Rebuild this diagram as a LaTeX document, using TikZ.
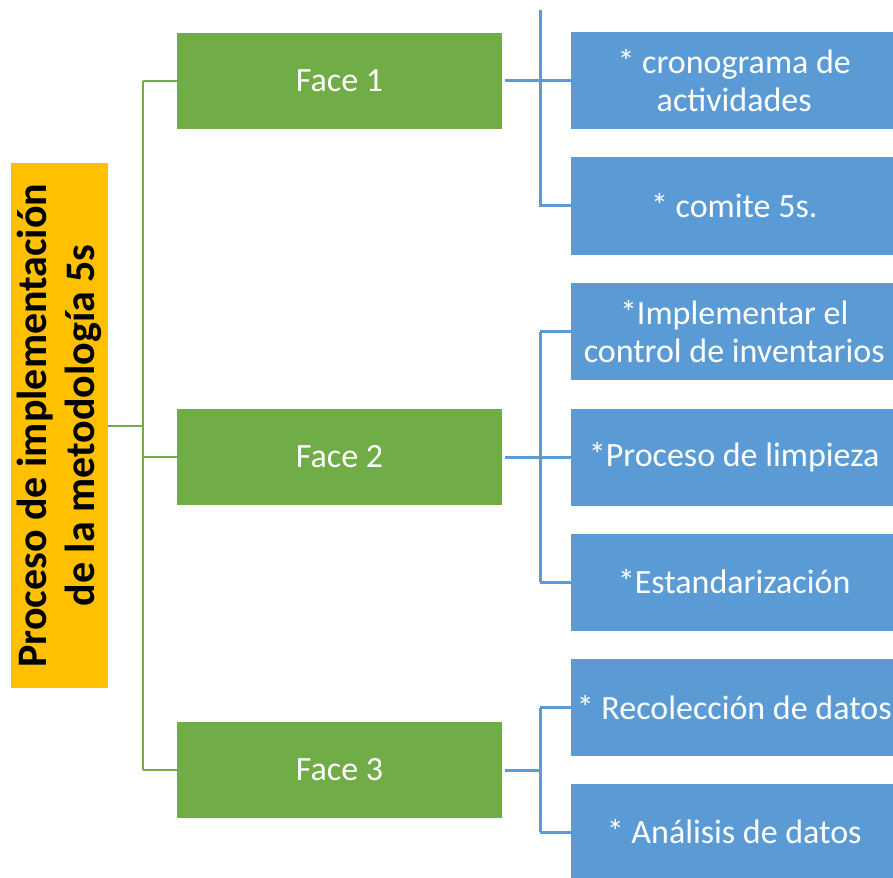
\documentclass[tikz,border=0pt]{standalone}
\usepackage{fontspec}
\setmainfont{Carlito}
\usetikzlibrary{calc}
\definecolor{fgreen}{HTML}{70AD47}
\definecolor{lblue}{HTML}{5B9BD5}
\definecolor{rorange}{HTML}{FFC000}
\begin{document}
\begin{tikzpicture}[x=1pt,y=-1pt,
  rootbox/.style={fill=rorange, minimum width=525pt, minimum height=97pt, inner sep=0pt,
    rotate=90, align=center, text=black, font=\fontsize{42}{48}\selectfont\bfseries},
  facebox/.style={fill=fgreen, minimum width=325pt, minimum height=96pt, inner sep=0pt,
    text=white, font=\fontsize{34}{38}\selectfont},
  leafbox/.style={fill=lblue, minimum width=326pt, minimum height=97pt, inner sep=0pt,
    anchor=west, align=center, text=white, font=\fontsize{34}{38}\selectfont},
  gline/.style={draw=fgreen, line width=2pt},
  bline/.style={draw=lblue, line width=3pt}]
\useasboundingbox (0,0) rectangle (893,877);
\clip (0,0) rectangle (893,877);
% root
\node[rootbox] (root) at (59.5,425.5) {Proceso de implementación\\de la metodología 5s};
% phases
\node[facebox] (f1) at (339.5,81) {Face 1};
\node[facebox] (f2) at (339.5,457) {Face 2};
\node[facebox] (f3) at (339.5,770) {Face 3};
% leaves
\node[leafbox] (c1) at (571,81) {* cronograma de\\actividades};
\node[leafbox] (c2) at (571,206) {* comite 5s.};
\node[leafbox] (c3) at (571,331.5) {*Implementar el\\control de inventarios};
\node[leafbox] (c4) at (571,457.5) {*Proceso de limpieza};
\node[leafbox] (c5) at (571,582) {*Estandarización};
\node[leafbox] (c6) at (571,707.5) {* Recolección de datos};
\node[leafbox] (c7) at (571,832) {* Análisis de datos};
% green connectors
\draw[gline] (root.south) -- ++(35,0) coordinate (rj);
\draw[gline] (rj |- f1.west) -- (rj |- f3.west);
\draw[gline] (rj |- f1.west) -- (f1.west);
\draw[gline] (rj |- f2.west) -- (f2.west);
\draw[gline] (rj |- f3.west) -- (f3.west);
% blue connectors, face 1
\coordinate (top1) at (540,10);
\draw[bline] ($(f1.east)+(3,0)$) -- (c1.west);
\draw[bline] (top1) |- (c2.west);
% face 2
\draw[bline] ($(f2.east)+(3,0)$) -- (top1 |- f2.east);
\draw[bline] (top1 |- c3.west) -- (top1 |- c5.west);
\draw[bline] (top1 |- c3.west) -- (c3.west);
\draw[bline] (top1 |- c4.west) -- (c4.west);
\draw[bline] (top1 |- c5.west) -- (c5.west);
% face 3
\draw[bline] ($(f3.east)+(3,0)$) -- (top1 |- f3.east);
\draw[bline] (top1 |- c6.west) -- (top1 |- c7.west);
\draw[bline] (top1 |- c6.west) -- (c6.west);
\draw[bline] (top1 |- c7.west) -- (c7.west);
\end{tikzpicture}
\end{document}
